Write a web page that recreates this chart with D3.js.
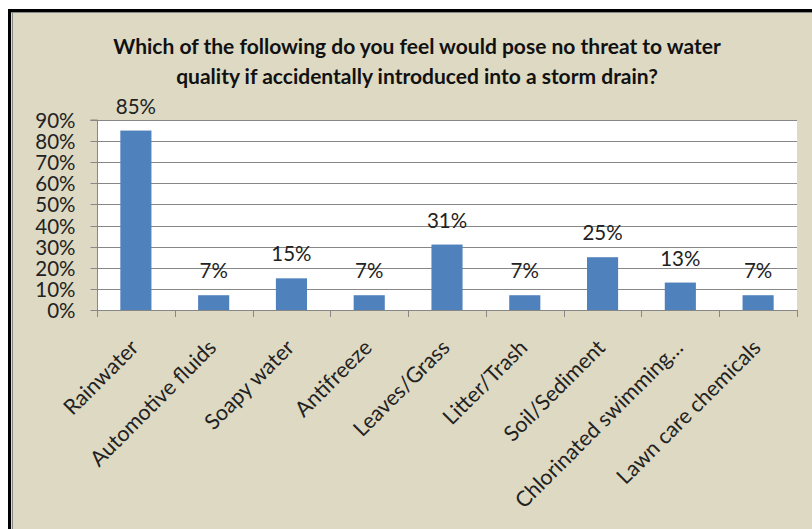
<!DOCTYPE html>
<html><head><meta charset="utf-8">
<script src="https://cdn.jsdelivr.net/npm/d3@7"></script>
<style>html,body{margin:0;padding:0;background:#fff;}svg{display:block;}</style>
</head><body>
<svg id="c" width="812" height="529"></svg>
<script>
const categories = ["Rainwater","Automotive fluids","Soapy water","Antifreeze","Leaves/Grass","Litter/Trash","Soil/Sediment","Chlorinated swimming…","Lawn care chemicals"];
const values = [85, 7, 15, 7, 31, 7, 25, 13, 7];
const yTicks = [0,10,20,30,40,50,60,70,80,90];
const titleLines = ["Which of the following do you feel would pose no threat to water","quality if accidentally introduced into a storm drain?"];

const svg = d3.select("#c");
const font = "Lato, 'Open Sans', sans-serif";

// panel
svg.append("rect").attr("x",8).attr("y",9).attr("width",812).attr("height",529).attr("fill","#ddd9c3");
svg.append("line").attr("x1",8).attr("x2",812).attr("y1",10.5).attr("y2",10.5).attr("stroke","#000").attr("stroke-width",3);
svg.append("line").attr("x1",9.5).attr("x2",9.5).attr("y1",9).attr("y2",529).attr("stroke","#000").attr("stroke-width",3);
svg.append("line").attr("x1",12.5).attr("x2",12.5).attr("y1",12).attr("y2",529).attr("stroke","#888").attr("stroke-width",1);
svg.append("line").attr("x1",11).attr("x2",812).attr("y1",12.5).attr("y2",12.5).attr("stroke","#888").attr("stroke-width",1);

const L=97, R=797, T=120, B=310;
const x = d3.scaleBand().domain(categories).range([L,R]).paddingInner(0.6).paddingOuter(0.3);
const y = d3.scaleLinear().domain([0,90]).range([B,T]);

svg.append("rect").attr("x",L).attr("y",T).attr("width",R-L).attr("height",B-T).attr("fill","#fff");

// gridlines
svg.append("g").selectAll("line").data(yTicks.filter(d=>d>0)).join("line")
  .attr("x1",L).attr("x2",R).attr("y1",d=>Math.round(y(d))+0.5).attr("y2",d=>Math.round(y(d))+0.5)
  .attr("stroke","#878787").attr("stroke-width",1);

// bars
svg.append("g").selectAll("rect").data(values).join("rect")
  .attr("x",(d,i)=>x(categories[i])).attr("width",x.bandwidth())
  .attr("y",d=>y(d)).attr("height",d=>B-y(d)).attr("fill","#4f81bd");

// value labels
svg.append("g").selectAll("text").data(values).join("text")
  .attr("x",(d,i)=>x(categories[i])+x.bandwidth()/2).attr("y",d=>y(d)-17)
  .attr("text-anchor","middle").attr("font-family",font).attr("font-size",20.5).attr("fill","#222")
  .text(d=>d+"%");

// y axis
const yAxis = svg.append("g").attr("transform",`translate(${L+0.5},0)`)
  .call(d3.axisLeft(y).tickValues(yTicks).tickFormat(d=>d+"%").tickSize(7).tickPadding(15));
yAxis.select(".domain").attr("stroke","#878787").attr("d",`M-7,${T}H0V${B}`);
yAxis.selectAll(".tick line").attr("stroke","#878787");
yAxis.selectAll("text").attr("font-family",font).attr("font-size",20.5).attr("fill","#222").attr("dy","0.36em");
yAxis.selectAll(".tick").attr("transform",d=>`translate(0,${Math.round(y(d))+0.5})`);

// x axis
const step = (R-L)/categories.length;
const bounds = d3.range(categories.length+1);
svg.append("line").attr("x1",L).attr("x2",R).attr("y1",B+0.5).attr("y2",B+0.5).attr("stroke","#878787");
svg.append("g").selectAll("line").data(bounds).join("line")
  .attr("x1",d=>Math.round(L+d*step)+0.5).attr("x2",d=>Math.round(L+d*step)+0.5)
  .attr("y1",B).attr("y2",B+7).attr("stroke","#878787");

svg.append("g").selectAll("text").data(categories).join("text")
  .attr("transform",d=>`translate(${x(d)+x.bandwidth()/2+4},${B+39}) rotate(-45)`)
  .attr("text-anchor","end").attr("font-family",font).attr("font-size",21.5).attr("fill","#222")
  .text(d=>d);

// title
svg.append("g").selectAll("text").data(titleLines).join("text")
  .attr("x",417).attr("y",(d,i)=>54+i*30).attr("text-anchor","middle")
  .attr("font-family",font).attr("font-weight","bold").attr("font-size",21).attr("fill","#111")
  .text(d=>d);
</script>
</body></html>
